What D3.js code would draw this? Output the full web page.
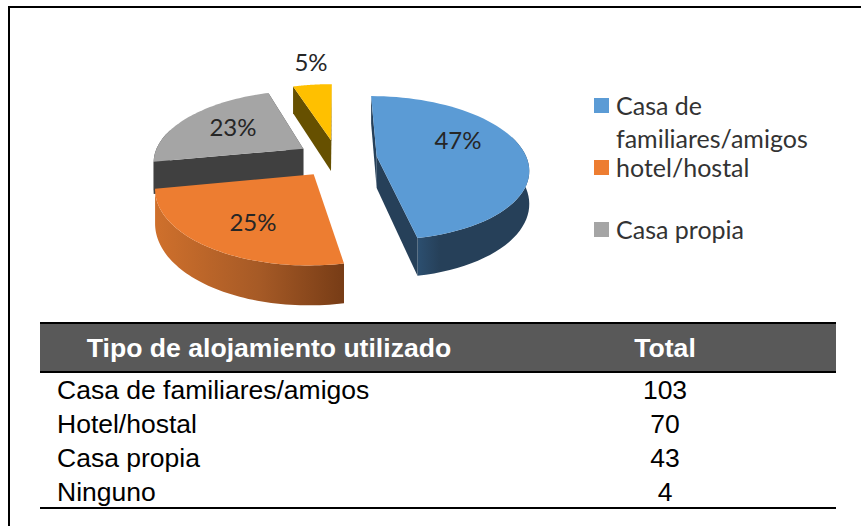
<!DOCTYPE html>
<html>
<head>
<meta charset="utf-8">
<script src="https://cdn.jsdelivr.net/npm/d3@7"></script>
<style>
  html, body { margin: 0; padding: 0; background: #fff; overflow: hidden; }
  svg { display: block; }
</style>
</head>
<body>
<div id="chart"></div>
<script>
const WIDTH = 861, HEIGHT = 526

// pie data, as labelled in the picture
const sliceKeys = ['familiares', 'hotel', 'propia', 'ninguno']
const slicePercents = [47, 25, 23, 5]

// legend only lists three of the slices
const legendLabels = [['Casa de', 'familiares/amigos'], ['hotel/hostal'], ['Casa propia']]
const legendKeys = ['familiares', 'hotel', 'propia']

// table under the pie
const tableHeader = ['Tipo de alojamiento utilizado', 'Total']
const tableNames = ['Casa de familiares/amigos', 'Hotel/hostal', 'Casa propia', 'Ninguno']
const tableTotals = [103, 70, 43, 4]

const TOP_COLORS = { familiares: '#5b9bd5', hotel: '#ed7d31', propia: '#a5a5a5', ninguno: '#ffc000' }
const WALL_COLORS = { familiares: '#264059', hotel: '#a65a26', propia: '#404040', ninguno: '#665000' }

const PIE = { cx: 337, cy: 158, r: 150, tilt: 0.47, persp: 0.163, depth: 32, explode: 40 }

const svg = d3.select('#chart').append('svg')
  .attr('width', WIDTH)
  .attr('height', HEIGHT)

// ── gradients for the curved walls ───────────────────────────
const defs = svg.append('defs')
const addGrad = (id, stops) => {
  const g = defs.append('linearGradient').attr('id', id)
  stops.forEach(([o, c]) => g.append('stop').attr('offset', o).attr('stop-color', c))
}
addGrad('wall-hotel', [[0, '#cf702c'], [0.55, '#a65a26'], [1, '#773c16']])
addGrad('wall-familiares', [[0, '#2c4f70'], [0.2, '#264059'], [1, '#264059']])

// ── frame ────────────────────────────────────────────────────
svg.append('path')
  .attr('d', d3.line()([[9, HEIGHT], [9, 7], [WIDTH, 7]]))
  .attr('fill', 'none')
  .attr('stroke', '#000')
  .attr('stroke-width', 2)

// ── 3d pie ───────────────────────────────────────────────────
const project = (u, v, z) => {
  const s = 1 / (1 - PIE.persp * v / PIE.r)
  return [PIE.cx + u * s, PIE.cy + (v * PIE.tilt + z) * s]
}
const line = d3.line()

const arcs = d3.pie().sort(null)(slicePercents).map((d, i) => ({
  key: sliceKeys[i],
  value: d.value,
  start: d.startAngle,
  end: d.endAngle,
}))

const gPie = svg.append('g').attr('class', 'pie')

arcs.forEach(d => {
  d.mid = (d.start + d.end) / 2
  d.ox = PIE.explode * Math.sin(d.mid)
  d.oy = -PIE.explode * Math.cos(d.mid)
  d.rim = (a, z) => project(d.ox + PIE.r * Math.sin(a), d.oy - PIE.r * Math.cos(a), z)
  d.apex = z => project(d.ox, d.oy, z)
  d.angles = d3.range(0, 61).map(t => d.start + (d.end - d.start) * t / 60)
})

// back to front, the orange top has to cover the grey wall
const drawOrder = ['ninguno', 'propia', 'familiares', 'hotel']
drawOrder.forEach(key => {
  const d = arcs.find(a => a.key === key)
  const wallFill = key === 'hotel' || key === 'familiares' ? `url(#wall-${key})` : WALL_COLORS[key]

  // curved outer wall
  const front = d.angles.filter(a => Math.cos(a) < 0.3)
  if (front.length > 1) {
    const wall = front.map(a => d.rim(a, 0)).concat(front.slice().reverse().map(a => d.rim(a, PIE.depth)))
    gPie.append('path').attr('d', line(wall) + 'Z').attr('fill', wallFill)
  }

  // flat cut faces
  ;[d.start, d.end].forEach(a => {
    const face = [d.apex(0), d.rim(a, 0), d.rim(a, PIE.depth), d.apex(PIE.depth)]
    gPie.append('path').attr('d', line(face) + 'Z').attr('fill', WALL_COLORS[key] === '#a65a26' ? 'none' : WALL_COLORS[key])
  })

  // top
  const top = [d.apex(0)].concat(d.angles.map(a => d.rim(a, 0)))
  gPie.append('path').attr('d', line(top) + 'Z').attr('fill', TOP_COLORS[key])
})

// value labels
const labelPos = { familiares: [458, 141], hotel: [253, 223], propia: [233, 128], ninguno: [311, 63] }
svg.append('g').attr('class', 'pie-labels')
  .selectAll('text').data(arcs).join('text')
  .attr('x', d => labelPos[d.key][0])
  .attr('y', d => labelPos[d.key][1])
  .attr('dy', '0.35em')
  .attr('text-anchor', 'middle')
  .attr('font-family', 'Lato, "Open Sans", sans-serif')
  .attr('font-size', 24)
  .attr('fill', '#262626')
  .text(d => `${d.value}%`)

// ── legend ───────────────────────────────────────────────────
const legendY = [106, 168, 230]
const gLegend = svg.append('g').attr('class', 'legend')
legendKeys.forEach((key, i) => {
  gLegend.append('rect')
    .attr('x', 594).attr('y', legendY[i] - 8)
    .attr('width', 15).attr('height', 15)
    .attr('fill', TOP_COLORS[key])
  legendLabels[i].forEach((txt, j) => {
    gLegend.append('text')
      .attr('x', 616).attr('y', legendY[i] + j * 33)
      .attr('dy', '0.35em')
      .attr('font-family', 'Lato, "Open Sans", sans-serif')
      .attr('font-size', 25)
      .attr('fill', '#333')
      .text(txt)
  })
})

// ── table ────────────────────────────────────────────────────
const TABLE = { x0: 40, x1: 836, top: 323, headBottom: 372, bottom: 508, nameX: 57, totalX: 665 }
const gTable = svg.append('g').attr('class', 'table')

gTable.append('rect')
  .attr('x', TABLE.x0).attr('y', TABLE.top)
  .attr('width', TABLE.x1 - TABLE.x0).attr('height', TABLE.headBottom - TABLE.top)
  .attr('fill', '#595959')

;[TABLE.top, TABLE.headBottom, TABLE.bottom].forEach(y => {
  gTable.append('line')
    .attr('x1', TABLE.x0).attr('x2', TABLE.x1)
    .attr('y1', y).attr('y2', y)
    .attr('stroke', '#000')
    .attr('stroke-width', 2)
})

const FONT = '"Liberation Sans", Arial, sans-serif'
gTable.selectAll('text.head').data(tableHeader).join('text')
  .attr('class', 'head')
  .attr('x', (d, i) => i === 0 ? 269 : TABLE.totalX)
  .attr('y', 348)
  .attr('dy', '0.35em')
  .attr('text-anchor', 'middle')
  .attr('font-family', FONT)
  .attr('font-size', 26.6)
  .attr('font-weight', 700)
  .attr('fill', '#fff')
  .text(d => d)

const yRow = d3.scaleBand().domain(tableNames).range([373, 509])

gTable.selectAll('text.name').data(tableNames).join('text')
  .attr('class', 'name')
  .attr('x', TABLE.nameX)
  .attr('y', d => yRow(d) + yRow.bandwidth() / 2)
  .attr('dy', '0.35em')
  .attr('font-family', FONT)
  .attr('font-size', 26.5)
  .attr('fill', '#000')
  .text(d => d)

gTable.selectAll('text.total').data(tableTotals).join('text')
  .attr('class', 'total')
  .attr('x', TABLE.totalX)
  .attr('y', (d, i) => yRow(tableNames[i]) + yRow.bandwidth() / 2)
  .attr('dy', '0.35em')
  .attr('text-anchor', 'middle')
  .attr('font-family', FONT)
  .attr('font-size', 26.5)
  .attr('fill', '#000')
  .text(d => d)
</script>
</body>
</html>
